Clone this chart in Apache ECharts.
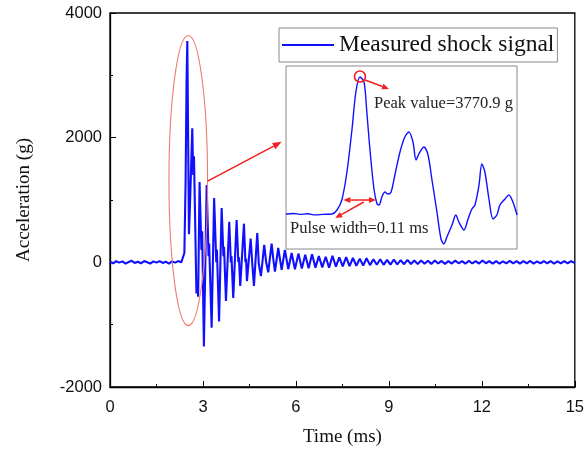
<!DOCTYPE html>
<html>
<head>
<meta charset="utf-8">
<script src="https://cdn.jsdelivr.net/npm/echarts@6/dist/echarts.min.js"></script>
<style>html,body{margin:0;padding:0;background:#fff;}#c{width:587px;height:455px;}</style>
</head>
<body>
<div id="c"></div>
<script>
// ---- data ----
const mainTime = [
  0.00,0.10,0.20,0.30,0.40,0.50,0.60,0.70,0.80,0.90,1.00,1.10,1.20,1.30,1.40,1.50,1.60,1.70,1.80,1.90,2.00,2.10,2.20,2.30,2.36,
  2.40,2.44,2.47,2.495,2.52,2.548,2.58,2.655,2.685,2.71,2.79,2.82,2.845,2.89,2.95,2.975,3.03,3.12,3.18,3.20,3.28,3.36,3.43,3.45,3.52,
  3.603,3.66,3.68,3.742,3.848,3.90,3.92,3.977,4.087,4.14,4.16,4.203,4.323,4.37,4.39,4.419,4.539,4.60,4.645,4.752,4.80,4.871,4.977,5.04,5.106,
  5.216,5.27,5.323,5.429,5.539,5.645,5.752,5.861,5.968,6.08,6.19,6.30,6.41,6.52,6.63,6.74,6.85,6.96,7.07,7.18,7.29,7.40,7.51,7.62,7.73,7.84,7.95,
  8.06,8.17,8.28,8.39,8.50,8.61,8.72,8.83,8.94,9.05,9.16,9.27,9.38,9.49,9.60,9.71,9.82,9.93,10.04,10.15,10.26,10.37,10.48,10.59,10.70,10.81,10.92,
  11.03,11.14,11.25,11.36,11.47,11.58,11.69,11.80,11.91,12.02,12.13,12.24,12.35,12.46,12.57,12.68,12.79,12.90,13.01,13.12,13.23,13.34,13.45,13.56,
  13.67,13.78,13.89,14.00,14.11,14.22,14.33,14.44,14.55,14.66,14.77,14.88,15.00
];
const mainAccel = [
  10,-15,20,-5,15,-20,5,25,-10,10,-15,20,0,-20,15,-5,20,-10,10,-20,15,-5,20,0,15,
  150,1300,2900,3550,2100,450,900,2150,1400,1700,-500,-300,-550,1290,200,500,-1350,1240,100,300,-1050,1030,0,200,-950,
  870,100,250,-620,650,0,100,-570,680,0,80,-380,620,0,60,-300,380,-80,-380,470,-20,-220,280,0,-160,
  300,50,-150,230,-120,200,-110,150,-110,140,-100,120,-95,130,-85,100,-80,90,-85,105,-70,80,-65,85,-60,70,-55,
  60,-50,65,-45,50,-40,50,-40,40,-38,45,-32,35,-30,40,-28,30,-25,28,-22,25,-25,30,-18,22,-25,20,
  -20,28,-15,20,-22,25,-18,20,-20,30,-15,18,-22,20,-20,15,-18,22,-15,20,-20,18,-15,22,
  -20,15,-18,20,-15,18,-20,15,-18,20,-15,18,-10
];
// zoomed view shown in the inset
const insetTime = [
  2.200,2.230,2.255,2.285,2.314,2.345,2.380,2.400,2.419,2.439,2.459,2.474,2.490,2.506,2.517,2.529,2.545,2.557,2.565,2.576,
  2.588,2.600,2.612,2.627,2.647,2.666,2.682,2.698,2.710,2.721,2.741,2.757,2.772,2.792,2.808,2.819,2.831,2.851,2.866,2.878,
  2.898,2.914,2.929,2.941,2.957,2.968,2.980,2.996,3.012,3.027,3.039,3.059,3.074,3.090,3.106
];
const insetAccel = [
  0,15,-10,5,-25,-10,0,110,385,1156,2339,3357,3771,3633,2807,1789,688,275,248,468,
  606,550,600,1073,1706,2119,2257,1981,1486,1651,1844,1624,963,55,-688,-826,-633,-303,-28,-220,
  -440,-138,138,248,798,1376,1156,413,-138,-28,248,413,523,330,-28
];
const xTicks = {min: 0, max: 15, interval: 3};
const yTicks = {min: -2000, max: 4000, interval: 2000};
const seriesName = 'Measured shock signal';
const peakText = 'Peak value=3770.9 g';
const pulseText = 'Pulse width=0.11 ms';

const mainData = mainTime.map((t, i) => [t, mainAccel[i]]);
const insetData = insetTime.map((t, i) => [t, insetAccel[i]]);

const SERIF = '"Liberation Serif","Times New Roman",serif';
const SANS = '"Liberation Sans",Arial,sans-serif';
const BLUE = '#1010ff';
const RED = '#f02020';

const chart = echarts.init(document.getElementById('c'), null, {renderer: 'canvas'});
chart.setOption({
  animation: false,
  backgroundColor: '#fff',
  grid: [
    {left: 110, right: 12, top: 13, bottom: 68, show: true, borderColor: '#000', borderWidth: 1.3, backgroundColor: 'transparent'},
    {left: 286, top: 66, width: 231, height: 183, show: true, borderColor: '#8a8a8a', borderWidth: 1, backgroundColor: '#fff', z: 3}
  ],
  legend: {
    data: [seriesName], left: 279, top: 28, padding: [5, 3, 5, 3],
    icon: 'rect', itemWidth: 52, itemHeight: 2,
    borderColor: '#8a8a8a', borderWidth: 1, backgroundColor: '#fff',
    textStyle: {fontFamily: SERIF, fontSize: 23.5, color: '#111'}
  },
  xAxis: [
    {type: 'value', gridIndex: 0, min: xTicks.min, max: xTicks.max, interval: xTicks.interval,
     name: 'Time (ms)', nameLocation: 'middle', nameGap: 41,
     nameTextStyle: {fontFamily: SERIF, fontSize: 19, color: '#111'},
     axisLine: {onZero: false, lineStyle: {color: '#000', width: 1.3}},
     axisTick: {inside: true, length: 6, lineStyle: {color: '#000'}},
     minorTick: {show: true, splitNumber: 2, length: 3, lineStyle: {color: '#000'}},
     axisLabel: {fontFamily: SANS, fontSize: 16.5, color: '#111', margin: 12},
     splitLine: {show: false}},
    {type: 'value', gridIndex: 1, min: 2.2, max: 3.106, show: false, splitLine: {show: false}}
  ],
  yAxis: [
    {type: 'value', gridIndex: 0, min: yTicks.min, max: yTicks.max, interval: yTicks.interval,
     name: 'Acceleration (g)', nameLocation: 'middle', nameGap: 76, nameRotate: 90,
     nameTextStyle: {fontFamily: SERIF, fontSize: 19, color: '#111'},
     axisLine: {onZero: false, lineStyle: {color: '#000', width: 1.3}},
     axisTick: {inside: true, length: 6, lineStyle: {color: '#000'}},
     minorTick: {show: true, splitNumber: 2, length: 3, lineStyle: {color: '#000'}},
     axisLabel: {fontFamily: SANS, fontSize: 16.5, color: '#111', margin: 8, formatter: v => String(v)},
     splitLine: {show: false}},
    {type: 'value', gridIndex: 1, min: -963, max: 4073, show: false, splitLine: {show: false}}
  ],
  series: [
    {name: seriesName, type: 'line', xAxisIndex: 0, yAxisIndex: 0, data: mainData,
     showSymbol: false, symbol: 'none', lineStyle: {color: BLUE, width: 2.1}, itemStyle: {color: BLUE}, z: 2},
    {name: 'inset', type: 'line', xAxisIndex: 1, yAxisIndex: 1, data: insetData,
     showSymbol: false, symbol: 'none', smooth: 0.3, lineStyle: {color: BLUE, width: 1.4}, z: 4}
  ]
});

function px(grid, t, v) { return chart.convertToPixel({gridIndex: grid}, [t, v]); }
function arrow(p1, p2, color, width, headLen, headW) {
  const dx = p2[0] - p1[0], dy = p2[1] - p1[1];
  const d = Math.sqrt(dx * dx + dy * dy);
  const ux = dx / d, uy = dy / d;
  const bx = p2[0] - ux * headLen, by = p2[1] - uy * headLen;
  const nx = -uy, ny = ux;
  return [
    {type: 'line', z: 20, shape: {x1: p1[0], y1: p1[1], x2: bx, y2: by}, style: {stroke: color, lineWidth: width}},
    {type: 'polygon', z: 20, shape: {points: [[p2[0], p2[1]], [bx + nx * headW / 2, by + ny * headW / 2], [bx - nx * headW / 2, by - ny * headW / 2]]},
     style: {fill: color}}
  ];
}

const g = [];
// ellipse around the main pulse
const c0 = px(0, 2.526, 1312);
const ex = px(0, 2.526 + 0.623, 1312)[0] - c0[0];
const ey = c0[1] - px(0, 2.526, 1312 + 2328)[1];
g.push({type: 'ellipse', z: 20, shape: {cx: c0[0], cy: c0[1], rx: ex, ry: ey}, style: {fill: 'none', stroke: '#ee7a70', lineWidth: 1.1}});
// arrow to inset
g.push(...arrow(px(0, 3.15, 1304), px(0, 5.54, 1933), RED, 1.5, 9, 7));
// inset: peak marker
const pk = px(1, 2.49, 3784);
g.push({type: 'circle', z: 20, shape: {cx: pk[0], cy: pk[1], r: 5.5}, style: {fill: 'none', stroke: RED, lineWidth: 1.6}});
g.push(...arrow(px(1, 2.51, 3688), px(1, 2.604, 3440), RED, 1.5, 7, 6));
// pulse width double arrow
const a1 = px(1, 2.425, 385), a2 = px(1, 2.553, 385), mid = [(a1[0] + a2[0]) / 2, a1[1]];
g.push(...arrow(mid, a1, RED, 1.5, 7, 6));
g.push(...arrow(mid, a2, RED, 1.5, 7, 6));
g.push(...arrow(px(1, 2.505, 330), px(1, 2.393, -110), RED, 1.5, 7, 6));
// texts
const tp = px(1, 2.545, 3027);
g.push({type: 'text', z: 21, x: tp[0], y: tp[1], style: {text: peakText, font: '16.5px ' + SERIF, fill: '#222', verticalAlign: 'middle'}});
const tw = px(1, 2.216, -405);
g.push({type: 'text', z: 21, x: tw[0], y: tw[1], style: {text: pulseText, font: '16.5px ' + SERIF, fill: '#222', verticalAlign: 'middle'}});
chart.setOption({graphic: g});
</script>
</body>
</html>
